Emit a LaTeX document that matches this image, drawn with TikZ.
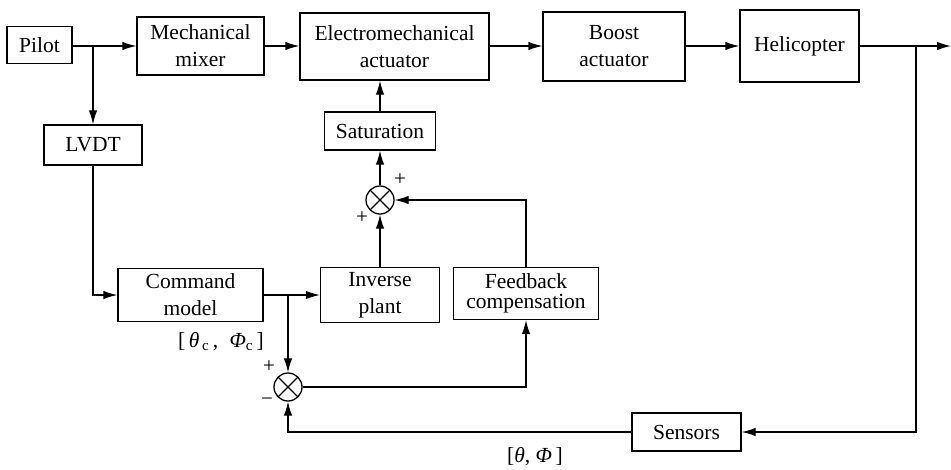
\documentclass[tikz,border=0pt]{standalone}
\usepackage{fontspec}
\setmainfont{Liberation Serif}
\usetikzlibrary{arrows.meta}
\begin{document}
\begin{tikzpicture}[x=1pt,y=-1pt,
  box/.style={draw,line width=1.3pt,inner sep=0pt,align=center,font=\fontsize{21.5}{27}\selectfont},
  sumnode/.style={draw,circle,line width=1.3pt,minimum size=28pt,inner sep=0pt,
    path picture={\draw[line width=1.3pt] (path picture bounding box.north west)--(path picture bounding box.south east) (path picture bounding box.north east)--(path picture bounding box.south west);}},
  arr/.style={line width=1.3pt,-{Latex[length=14pt,width=8.5pt]}},
  sgn/.style={font=\fontsize{21}{21}\selectfont,inner sep=0pt},
  lbl/.style={font=\fontsize{21.5}{24}\selectfont,inner sep=0pt}]
\useasboundingbox (0,0) rectangle (951,469);
% top row
\node[box,minimum width=65pt,minimum height=37pt] (pilot) at (39.5,45) {Pilot};
\node[box,minimum width=127pt,minimum height=58pt] (mixer) at (200.5,46) {Mechanical\\mixer};
\node[box,minimum width=189pt,minimum height=67pt] (ema) at (394.5,46.5) {Electromechanical\\actuator};
\node[box,minimum width=142pt,minimum height=69pt] (boost) at (614,46.5) {Boost\\actuator};
\node[box,minimum width=119pt,minimum height=72pt] (heli) at (799.5,46) {Helicopter};
% lower blocks
\node[box,minimum width=98pt,minimum height=40pt] (lvdt) at (93,145) {LVDT};
\node[box,minimum width=111pt,minimum height=38pt] (sat) at (380,131) {Saturation};
\node[sumnode] (sum1) at (380,200) {};
\node[box,minimum width=145pt,minimum height=53pt] (cmd) at (190.5,295) {Command\\model};
\node[box,minimum width=119pt,minimum height=55pt] (inv) at (380,295) {Inverse\\plant};
\node[box,minimum width=145pt,minimum height=52pt,font=\fontsize{21.5}{20.5}\selectfont] (fb) at (526,293.5) {Feedback\\compensation};
\node[sumnode] (sum2) at (288,387) {};
\node[box,minimum width=109pt,minimum height=38pt] (sens) at (686.5,432) {Sensors};
% junction coordinates
\coordinate (b1) at (93,46);
\coordinate (b2) at (288,294.5);
\coordinate (b3) at (916,46);
\coordinate (out) at (951,46);
% connectors
\draw[arr] (pilot.east |- b1) -- (mixer.west |- b1);
\draw[arr] (b1) -- (lvdt.north);
\draw[arr] (mixer.east |- b1) -- (ema.west |- b1);
\draw[arr] (ema.east |- b1) -- (boost.west |- b1);
\draw[arr] (boost.east |- b1) -- (heli.west |- b1);
\draw[arr] (heli.east |- b1) -- (out);
\draw[arr] (b3) |- (sens.east);
\draw[arr] (lvdt.south) |- (cmd.west);
\draw[arr] (cmd.east) -- (inv.west);
\draw[arr] (b2) -- (sum2.north);
\draw[arr] (inv.north) -- (sum1.south);
\draw[arr] (sum1.north) -- (sat.south);
\draw[arr] (sat.north) -- (sat.north |- ema.south);
\draw[arr] (fb.north) |- (sum1.east);
\draw[arr] (sum2.east) -| (fb.south);
\draw[arr] (sens.west) -| (sum2.south);
% signs
\node[sgn] (p1) at (400,180) {+};
\node[sgn] (p2) at (362,218) {+};
\node[sgn] (p3) at (269,367) {+};
\node[sgn] (m1) at (267,402) {\textminus};
% labels
\node[lbl] (lc) at (221,342) {[\,\textit{θ}\textsubscript{\,c}\,,\; \textit{Φ}\textsubscript{c}\,]};
\node[lbl] (lm) at (535,457) {[\textit{θ}, \textit{Φ}\,]};
\end{tikzpicture}
\end{document}
